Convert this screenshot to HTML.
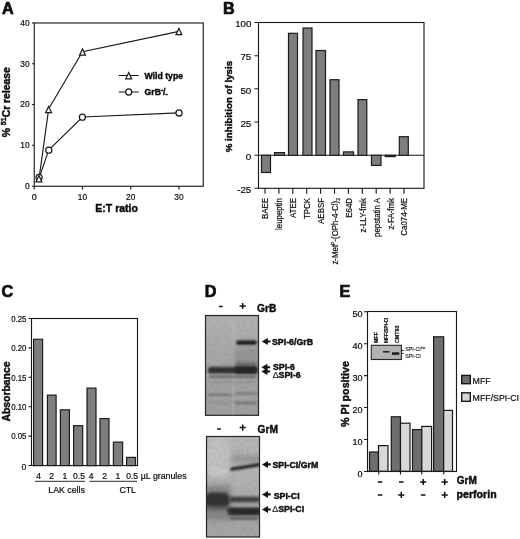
<!DOCTYPE html>
<html><head><meta charset="utf-8"><title>Figure</title>
<style>
html,body{margin:0;padding:0;background:#fff;}
svg{display:block;filter:blur(0.45px);}
text{font-family:"Liberation Sans",sans-serif;fill:#0c0c0c;stroke:#0c0c0c;stroke-width:0.2;}
.b{font-weight:bold;stroke-width:0.42;}
.pl{stroke-width:0.7;}
.sg{stroke:#111;fill:none;stroke-width:1.5;}
.ax{stroke:#181818;stroke-width:1.12;fill:none;}
.bar{fill:#7e7e7e;stroke:#1c1c1c;stroke-width:1.2;}
.barE{fill:#6e6e6e;stroke:#181818;stroke-width:1.2;}
.barL{fill:#d8d8d8;stroke:#181818;stroke-width:1.2;}
</style></head><body>
<svg width="520" height="539" viewBox="0 0 520 539">
<defs>
<filter id="bl0" x="-20%" y="-100%" width="140%" height="300%"><feGaussianBlur stdDeviation="0.45"/></filter>
<filter id="bl1" x="-20%" y="-100%" width="140%" height="300%"><feGaussianBlur stdDeviation="0.9"/></filter>
<filter id="bl2" x="-20%" y="-100%" width="140%" height="300%"><feGaussianBlur stdDeviation="1.6"/></filter>
<filter id="bl3" x="-30%" y="-60%" width="160%" height="220%"><feGaussianBlur stdDeviation="2.6"/></filter>
<filter id="nz" x="0" y="0" width="100%" height="100%"><feTurbulence type="fractalNoise" baseFrequency="0.3" numOctaves="2" seed="7" result="t"/><feColorMatrix in="t" type="matrix" values="0 0 0 0 0  0 0 0 0 0  0 0 0 0 0  1.6 0 0 0 -0.55"/></filter>
<linearGradient id="g1" x1="0" y1="0" x2="0" y2="1"><stop offset="0" stop-color="#b2b2b2"/><stop offset="0.5" stop-color="#a6a6a6"/><stop offset="1" stop-color="#a0a0a0"/></linearGradient>
<linearGradient id="g2" x1="0" y1="0" x2="0" y2="1"><stop offset="0" stop-color="#b6b6b6"/><stop offset="0.45" stop-color="#b2b2b2"/><stop offset="0.8" stop-color="#a4a4a4"/><stop offset="1" stop-color="#a6a6a6"/></linearGradient>
<clipPath id="c1"><rect x="205.5" y="315.5" width="53" height="99.8"/></clipPath>
<clipPath id="c2"><rect x="206.5" y="436.5" width="53" height="100.5"/></clipPath>
</defs>
<rect x="0" y="0" width="520" height="539" fill="#fff"/>

<!-- ================= PANEL A ================= -->
<g id="pA">
<text class="b pl" x="2" y="14.2" font-size="16.2">A</text>
<rect class="ax" x="34.25" y="23" width="169" height="163.25"/>
<g class="ax">
<path d="M32 23H34.25M32 63.8H34.25M32 104.5H34.25M32 145.3H34.25M32 186.25H34.25"/>
<path d="M34.25 186.25V189.5M82.5 186.25V189.5M130.75 186.25V189.5M179 186.25V189.5"/>
</g>
<g font-size="9" text-anchor="end">
<text x="29.6" y="25.9" textLength="9.3" lengthAdjust="spacingAndGlyphs">40</text><text x="29.6" y="66.7" textLength="9.3" lengthAdjust="spacingAndGlyphs">30</text><text x="29.6" y="107.4" textLength="9.3" lengthAdjust="spacingAndGlyphs">20</text><text x="29.6" y="148.2" textLength="9.3" lengthAdjust="spacingAndGlyphs">10</text><text x="29.6" y="189.2" textLength="4.7" lengthAdjust="spacingAndGlyphs">0</text>
</g>
<g font-size="9" text-anchor="middle">
<text x="34.25" y="200.3">0</text><text x="82.5" y="200.2" textLength="9.3" lengthAdjust="spacingAndGlyphs">10</text><text x="130.75" y="200.2" textLength="9.3" lengthAdjust="spacingAndGlyphs">20</text><text x="179" y="200.2" textLength="9.3" lengthAdjust="spacingAndGlyphs">30</text>
</g>
<text class="b" x="116.6" y="212.2" font-size="10.5" text-anchor="middle">E:T ratio</text>
<text class="b" font-size="10.4" text-anchor="middle" transform="translate(9.9,102.2) rotate(-90)">% <tspan font-size="7" dy="-3.6">51</tspan><tspan dy="3.6">Cr release</tspan></text>
<!-- lines -->
<polyline class="ax" points="39.1,178.1 48.7,108.8 82.5,51.8 179,31.4"/>
<polyline class="ax" points="39.1,178.1 48.7,150 82.5,117 179,112.9"/>
<g fill="#fff" stroke="#181818" stroke-width="1.2">
<circle cx="39.1" cy="177.4" r="3.05"/><circle cx="48.8" cy="150.2" r="3.05"/><circle cx="82.4" cy="117.2" r="3.05"/><circle cx="179" cy="113" r="3.05"/>
<path d="M38.9 175.6l2.95 6.2h-5.9z"/><path d="M48.6 106.4l2.95 6.2h-5.9z"/><path d="M82.5 49.0l2.95 6.2h-5.9z"/><path d="M178.9 28.5l2.95 6.2h-5.9z"/>
</g>
<!-- legend -->
<path class="ax" d="M118.7 75.5H138.7M118.7 92H138.7"/>
<g fill="#fff" stroke="#181818" stroke-width="1.2"><path d="M128.7 72.6l2.95 6.2h-5.9z"/><circle cx="128.7" cy="92" r="3.05"/></g>
<text class="b" x="144.5" y="79" font-size="8.7">Wild type</text>
<text class="b" x="144.5" y="95.3" font-size="8.7">GrB<tspan font-size="6.5" dy="-3.2">-</tspan><tspan dy="3.2">/</tspan><tspan font-size="6.5" dy="0.5">-</tspan></text>
</g>

<!-- ================= PANEL B ================= -->
<g id="pB">
<text class="b pl" x="222.9" y="14.2" font-size="16.2">B</text>
<rect class="ax" x="258.5" y="22.5" width="165.5" height="165.8"/>
<path class="ax" d="M258.5 155.3H424"/>
<g class="ax">
<path d="M254.5 22.5H258.5M254.5 55.7H258.5M254.5 88.8H258.5M254.5 122H258.5M254.5 155.3H258.5M254.5 188.3H258.5"/>
<path d="M265.0 188.3V193.8M278.9 188.3V193.8M292.8 188.3V193.8M306.7 188.3V193.8M320.6 188.3V193.8M334.5 188.3V193.8M348.4 188.3V193.8M362.3 188.3V193.8M376.2 188.3V193.8M390.1 188.3V193.8M404.0 188.3V193.8"/>
</g>
<g font-size="9.8" text-anchor="end">
<text x="251.5" y="27">100</text><text x="251.3" y="60.4">75</text><text x="251.3" y="93.6">50</text><text x="251.3" y="126.7">25</text><text x="251.3" y="159.8">0</text><text x="251.3" y="193">-25</text>
</g>
<text class="b" font-size="9.75" text-anchor="middle" transform="translate(232.4,106.6) rotate(-90)">% inhibition of lysis</text>
<g>
<rect class="bar" x="261.5" y="155.3" width="9" height="17.2"/>
<rect class="bar" x="274.5" y="152.6" width="10" height="2.7"/>
<rect class="bar" x="288.5" y="33.3" width="9" height="122.0"/>
<rect class="bar" x="303" y="28.0" width="9" height="127.3"/>
<rect class="bar" x="316" y="50.5" width="9.5" height="104.8"/>
<rect class="bar" x="330" y="79.7" width="9" height="75.6"/>
<rect class="bar" x="343.5" y="151.9" width="10" height="3.4"/>
<rect class="bar" x="358" y="99.6" width="8.8" height="55.7"/>
<rect class="bar" x="371.5" y="155.3" width="9.5" height="10.1"/>
<rect class="bar" x="385.3" y="155.3" width="10" height="1.3"/>
<rect class="bar" x="399.3" y="136.7" width="9" height="18.6"/>
</g>
<g font-size="8.7" text-anchor="end">
<text textLength="21.1" lengthAdjust="spacingAndGlyphs" transform="translate(268.4,198) rotate(-90)">BAEE</text>
<text textLength="32.0" lengthAdjust="spacingAndGlyphs" transform="translate(282.3,198) rotate(-90)">leupeptin</text>
<text textLength="20.0" lengthAdjust="spacingAndGlyphs" transform="translate(296.2,198) rotate(-90)">ATEE</text>
<text textLength="21.0" lengthAdjust="spacingAndGlyphs" transform="translate(310.1,198) rotate(-90)">TPCK</text>
<text textLength="25.9" lengthAdjust="spacingAndGlyphs" transform="translate(324.0,198) rotate(-90)">AEBSF</text>
<text textLength="66.6" lengthAdjust="spacingAndGlyphs" transform="translate(337.9,198) rotate(-90)">z-Met<tspan font-size="5.6" dy="-2.8">P</tspan><tspan dy="2.8">-(OPh-4-Cl)</tspan><tspan font-size="5.6" dy="1.6">2</tspan></text>
<text textLength="19.8" lengthAdjust="spacingAndGlyphs" transform="translate(351.8,198) rotate(-90)">E64D</text>
<text textLength="34.6" lengthAdjust="spacingAndGlyphs" transform="translate(365.7,198) rotate(-90)">z-LLY-fmk</text>
<text textLength="39.0" lengthAdjust="spacingAndGlyphs" transform="translate(379.6,198) rotate(-90)">pepstatin A</text>
<text textLength="31.6" lengthAdjust="spacingAndGlyphs" transform="translate(393.5,198) rotate(-90)">z-FA-fmk</text>
<text textLength="37.7" lengthAdjust="spacingAndGlyphs" transform="translate(407.4,198) rotate(-90)">Ca074-ME</text>
</g>
</g>

<!-- ================= PANEL C ================= -->
<g id="pC">
<text class="b pl" x="1.5" y="296.6" font-size="16.2">C</text>
<rect class="ax" x="31.5" y="318.5" width="106" height="147"/>
<path class="ax" d="M28.5 318.5H31.5M28.5 347.9H31.5M28.5 377.3H31.5M28.5 406.7H31.5M28.5 436.1H31.5M28.5 465.5H31.5"/>
<g font-size="8.7" text-anchor="end">
<text x="26.4" y="321.8" textLength="15.2" lengthAdjust="spacingAndGlyphs">0.25</text><text x="26.4" y="351.2" textLength="15.2" lengthAdjust="spacingAndGlyphs">0.20</text><text x="26.4" y="380.6" textLength="15.2" lengthAdjust="spacingAndGlyphs">0.15</text><text x="26.4" y="410.0" textLength="15.2" lengthAdjust="spacingAndGlyphs">0.10</text><text x="26.4" y="439.4" textLength="15.2" lengthAdjust="spacingAndGlyphs">0.05</text><text x="26.4" y="469.7">0</text>
</g>
<text class="b" font-size="10.4" text-anchor="middle" transform="translate(10.2,391.5) rotate(-90)">Absorbance</text>
<g>
<rect class="bar" x="33.6" y="339.3" width="9" height="126.3"/>
<rect class="bar" x="47.4" y="395.1" width="8.7" height="70.5"/>
<rect class="bar" x="60.4" y="409.8" width="9" height="55.8"/>
<rect class="bar" x="73.6" y="425.7" width="9.1" height="40.0"/>
<rect class="bar" x="87" y="388.1" width="9" height="77.6"/>
<rect class="bar" x="100" y="418.6" width="9" height="47.0"/>
<rect class="bar" x="113.4" y="442.1" width="9.2" height="23.5"/>
<rect class="bar" x="126.6" y="457.4" width="8.9" height="8.2"/>
</g>
<g font-size="8.5" text-anchor="middle">
<text x="38.5" y="479.3">4</text><text x="51.5" y="479.3">2</text><text x="64.8" y="479.3">1</text><text x="79" y="479.3">0.5</text>
<text x="91.2" y="479.3">4</text><text x="104.5" y="479.3">2</text><text x="117.9" y="479.3">1</text><text x="132.2" y="479.3">0.5</text>
</g>
<text x="140.8" y="479.3" font-size="8.8">µL granules</text>
<path d="M35 481.4H85M89.5 481.4H137" stroke="#555" stroke-width="1.1" fill="none"/>
<text x="66.6" y="493" font-size="8.8" text-anchor="middle">LAK cells</text>
<text x="127.7" y="493" font-size="8.8" text-anchor="middle">CTL</text>
</g>

<!-- ================= PANEL D ================= -->
<g id="pD">
<text class="b pl" x="204.7" y="296.6" font-size="16.2">D</text>
<path class="sg" d="M218.9 306.4H222.7M239.6 306H245.8M242.7 302.9V309.1"/>
<text class="b" x="257" y="311.6" font-size="10.2">GrB</text>
<!-- gel 1 -->
<rect x="205.5" y="315.5" width="53" height="99.8" fill="url(#g1)"/>
<g clip-path="url(#c1)">
<rect x="232.6" y="315" width="1.6" height="100" fill="#c4c4c4" opacity="0.45" filter="url(#bl1)"/>
<rect x="234" y="347" width="25" height="20" fill="#8a8a8a" opacity="0.6" filter="url(#bl3)"/>
<rect x="236.3" y="340.6" width="20.4" height="4.2" rx="1.5" fill="#1c1c1c" filter="url(#bl1)"/>
<rect x="235.5" y="362.6" width="21.5" height="3.4" fill="#5a5a5a" opacity="0.85" filter="url(#bl2)"/>
<rect x="208" y="367.3" width="49.2" height="5.8" rx="2.9" fill="#303030" filter="url(#bl1)"/>
<rect x="234.5" y="366.6" width="22.8" height="7" rx="3" fill="#202020" filter="url(#bl1)"/>
<rect x="208" y="366.6" width="49.2" height="7.2" rx="3" fill="#333" opacity="0.35" filter="url(#bl2)"/>
<rect x="209" y="375.4" width="47.5" height="2.4" fill="#5e5e5e" opacity="0.85" filter="url(#bl1)"/>
<rect x="209" y="381" width="47" height="2" fill="#8a8a8a" opacity="0.6" filter="url(#bl1)"/>
<rect x="208" y="393.6" width="24" height="2.4" fill="#707070" opacity="0.8" filter="url(#bl1)"/>
<rect x="235" y="392.4" width="22" height="2.4" fill="#707070" opacity="0.8" filter="url(#bl1)"/>
<rect x="235" y="401.6" width="22" height="2.6" fill="#6c6c6c" opacity="0.8" filter="url(#bl1)"/>
<rect x="208" y="401" width="24" height="2.4" fill="#8c8c8c" opacity="0.6" filter="url(#bl2)"/>
<rect x="205" y="315" width="55" height="100" filter="url(#nz)" opacity="0.07"/>
</g>
<rect x="205.5" y="315.5" width="53" height="99.8" fill="none" stroke="#262626" stroke-width="1.2"/>
<!-- labels gel 1 -->
<g fill="#111">
<path d="M261.8 341.5l6-3.5v2.45h2.7v2.1h-2.7v2.45z"/>
<path d="M261.4 367.3l6-3.5v2.45h2.7v2.1h-2.7v2.45z"/>
<path d="M261.4 371.5l6-3.5v2.45h2.7v2.1h-2.7v2.45z"/>
</g>
<text class="b" x="272" y="345" font-size="8.8">SPI-6/GrB</text>
<text class="b" x="272.9" y="370" font-size="8.8">SPI-6</text>
<text class="b" x="272.7" y="378.2" font-size="8.8"><tspan font-weight="normal" stroke-width="0.1">Δ</tspan>SPI-6</text>

<path class="sg" d="M217.1 428.9H220.9M239.6 427.6H245.8M242.7 424.5V430.7"/>
<text class="b" x="257.5" y="432.8" font-size="10.2">GrM</text>
<!-- gel 2 -->
<rect x="206.5" y="436.5" width="53" height="100.5" fill="url(#g2)"/>
<g clip-path="url(#c2)">
<rect x="206" y="437" width="24" height="34" fill="#cacaca" opacity="0.6" filter="url(#bl3)"/>
<rect x="209" y="469.5" width="19" height="6" fill="#d6d6d6" opacity="0.8" filter="url(#bl3)"/>
<rect x="232" y="455" width="28" height="8" fill="#8c8c8c" opacity="0.7" filter="url(#bl3)"/>
<path d="M231.8 469L245 467L260 464.6" stroke="#1c1c1c" stroke-width="3" fill="none" stroke-linecap="round" filter="url(#bl1)"/>
<rect x="204" y="485" width="27" height="34" fill="#707070" opacity="0.6" filter="url(#bl3)"/>
<rect x="205" y="492.6" width="24.6" height="15" rx="6" fill="#303030" filter="url(#bl2)"/>
<rect x="206" y="505" width="23" height="6" rx="3" fill="#555" opacity="0.6" filter="url(#bl2)"/>
<rect x="229" y="496.8" width="31" height="5.4" rx="2" fill="#3a3a3a" filter="url(#bl2)"/>
<rect x="227.5" y="508.2" width="33" height="6.6" rx="3" fill="#1a1a1a" filter="url(#bl1)"/>
<rect x="227.5" y="507.2" width="33" height="8.6" rx="3" fill="#333" opacity="0.6" filter="url(#bl2)"/>
<rect x="230" y="517" width="28" height="2.8" fill="#505050" opacity="0.85" filter="url(#bl1)"/>
<rect x="207" y="511" width="22" height="7" fill="#888" opacity="0.6" filter="url(#bl3)"/>
<rect x="205" y="436" width="55" height="101" filter="url(#nz)" opacity="0.07"/>
</g>
<rect x="206.5" y="436.5" width="53" height="100.5" fill="none" stroke="#262626" stroke-width="1.2"/>
<g fill="#111">
<path d="M262 464.4l6-3.5v2.45h2.7v2.1h-2.7v2.45z"/>
<path d="M262 494.4l6-3.5v2.45h2.7v2.1h-2.7v2.45z"/>
<path d="M262 509.5l6-3.5v2.45h2.7v2.1h-2.7v2.45z"/>
</g>
<text class="b" x="272.4" y="467.7" font-size="8.8">SPI-CI/GrM</text>
<text class="b" x="273.7" y="499.2" font-size="8.8">SPI-CI</text>
<text class="b" x="272.3" y="512.3" font-size="8.8"><tspan font-weight="normal" stroke-width="0.1">Δ</tspan>SPI-CI</text>
</g>

<!-- ================= PANEL E ================= -->
<g id="pE">
<text class="b pl" x="339.5" y="296.5" font-size="16.2">E</text>
<rect class="ax" x="367.5" y="311.5" width="89" height="160"/>
<path class="ax" d="M364 311.8H367.5M364 343.7H367.5M364 375.6H367.5M364 407.5H367.5M364 439.5H367.5M364 471.5H367.5"/>
<path class="ax" d="M378.75 471.25V474.5M400.5 471.25V474.5M421.75 471.25V474.5M443.75 471.25V474.5"/>
<g font-size="9.1" text-anchor="end">
<text x="362.6" y="317.2">50</text><text x="362.6" y="349.2">40</text><text x="362.6" y="381.2">30</text><text x="362.6" y="413.2">20</text><text x="362.6" y="445.2">10</text><text x="362.6" y="477.2">0</text>
</g>
<text class="b" font-size="10.7" text-anchor="middle" transform="translate(349,394) rotate(-90)">% PI positive</text>
<g>
<rect class="barE" x="369.5" y="452" width="9" height="19.25"/>
<rect class="barL" x="378.5" y="445.6" width="9.5" height="25.65"/>
<rect class="barE" x="391.3" y="416.8" width="9.2" height="54.45"/>
<rect class="barL" x="400.5" y="423.2" width="9.5" height="48.05"/>
<rect class="barE" x="412.5" y="429.6" width="9.3" height="41.65"/>
<rect class="barL" x="421.8" y="426.4" width="9.8" height="44.85"/>
<rect class="barE" x="433.6" y="336.8" width="10.1" height="134.45"/>
<rect class="barL" x="443.7" y="410.4" width="8.8" height="60.85"/>
</g>
<!-- inset -->
<rect x="371.3" y="345.3" width="30.1" height="14.2" fill="#b2b2b2" stroke="#262626" stroke-width="1.1"/>
<rect x="383" y="351" width="6.5" height="1.6" fill="#2a2a2a" filter="url(#bl0)"/>
<rect x="392" y="352.3" width="7.2" height="2.5" fill="#1c1c1c" filter="url(#bl0)"/>
<g class="b" font-size="5.3" style="stroke-width:0.1">
<text transform="translate(377.9,343) rotate(-90)">MFF</text>
<text transform="translate(388.2,343) rotate(-90)" textLength="25.4" lengthAdjust="spacingAndGlyphs">MFF/SPI-CI</text>
<text transform="translate(398.5,343) rotate(-90)">CMT93</text>
</g>
<path class="ax" d="M401.5 350.5H403.6M401.5 353.5H403.6" stroke-width="0.8"/>
<text x="405.2" y="351.3" font-size="5.3" style="stroke-width:0.1">SPI-CI<tspan font-size="3.6" dy="-2">his</tspan></text>
<text x="405.2" y="357.7" font-size="5.3" style="stroke-width:0.1">SPI-CI</text>
<!-- legend -->
<rect class="barE" x="461.7" y="375.4" width="8.6" height="8.3" style="stroke-width:1.4"/>
<rect class="barL" x="461.7" y="392.8" width="8.6" height="8.5" style="stroke-width:1.4"/>
<text x="472.6" y="384.2" font-size="8.8">MFF</text>
<text x="472.6" y="401" font-size="8.8">MFF/SPI-CI</text>
<!-- signs -->
<path class="sg" d="M377.8 482H382.4M399 482H403.6M420.1 482H426.3M423.2 478.9V485.1M441.6 482H447.8M444.7 478.9V485.1M377.8 494.9H382.4M398.2 494.9H404.4M401.3 491.8V498M420.9 494.9H425.5M441.6 494.9H447.8M444.7 491.8V498"/>
<text class="b" x="456.8" y="484" font-size="10">GrM</text>
<text class="b" x="456.6" y="498" font-size="10.6">perforin</text>
</g>
</svg>
</body></html>
